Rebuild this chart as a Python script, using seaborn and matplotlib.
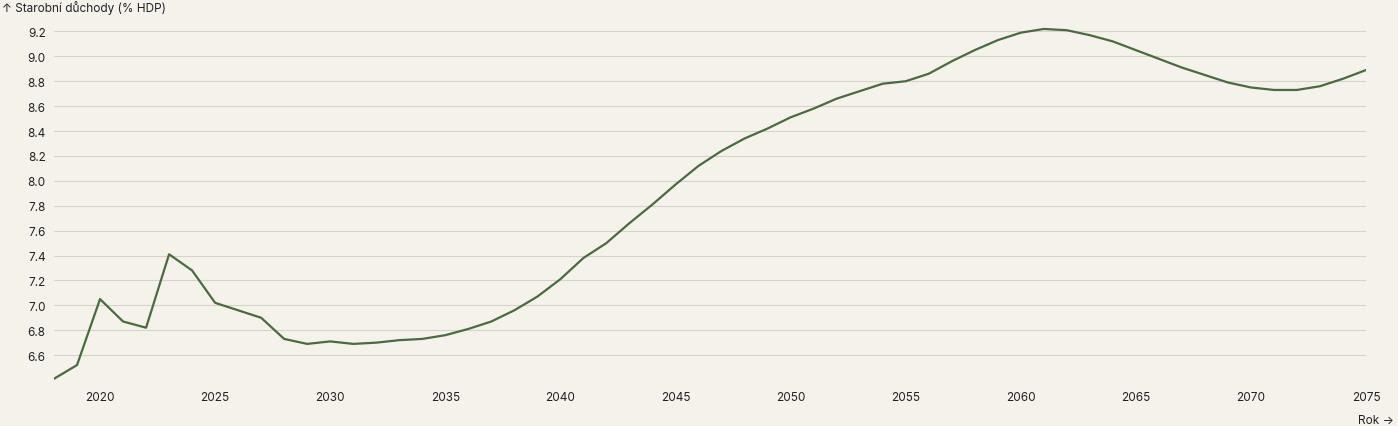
import matplotlib
matplotlib.use("Agg")
import matplotlib.pyplot as plt
import seaborn as sns
import pandas as pd

years = list(range(2018, 2076))
values = [6.41, 6.52, 7.05, 6.87, 6.82, 7.41, 7.28, 7.02, 6.96, 6.90,
          6.73, 6.69, 6.71, 6.69, 6.70, 6.72, 6.73, 6.76, 6.81, 6.87,
          6.96, 7.07, 7.21, 7.38, 7.50, 7.66, 7.81, 7.97, 8.12, 8.24,
          8.34, 8.42, 8.51, 8.58, 8.66, 8.72, 8.78, 8.80, 8.86, 8.96,
          9.05, 9.13, 9.19, 9.22, 9.21, 9.17, 9.12, 9.05, 8.98, 8.91,
          8.85, 8.79, 8.75, 8.73, 8.73, 8.76, 8.82, 8.89]
xticks = [2020, 2025, 2030, 2035, 2040, 2045, 2050, 2055, 2060, 2065, 2070, 2075]
yticks = [6.6, 6.8, 7.0, 7.2, 7.4, 7.6, 7.8, 8.0, 8.2, 8.4, 8.6, 8.8, 9.0, 9.2]

sns.set_theme(style="white")
plt.rcParams['font.family'] = ['Inter', 'DejaVu Sans']
bg = "#f5f2ec"
fig = plt.figure(figsize=(13.98, 4.27), dpi=100, facecolor=bg)
ax = fig.add_axes([54/1398, 1-381/427, (1366-54)/1398, (381-20)/427])
ax.set_facecolor(bg)
df = pd.DataFrame({"year": years, "value": values})
sns.lineplot(data=df, x="year", y="value", ax=ax, color="#4a6a40", linewidth=1.6)
ax.set_xlim(2018, 2075)
ax.set_ylim(6.4, 9.3)
ax.set_xticks(xticks)
ax.set_yticks(yticks)
ax.set_yticklabels([f"{v:.1f}" for v in yticks])
ax.grid(axis="y", color="#d6d3cd", linewidth=0.8)
for s in ax.spines.values():
    s.set_visible(False)
ax.tick_params(axis="both", labelsize=8.5, colors="#222222", length=0, pad=6)
ax.tick_params(axis="x", length=4, color="#222222", pad=4)
ax.set_xlabel("")
ax.set_ylabel("")
fig.text(2/1398, 1-8/427, "↑ Starobní důchody (% HDP)", fontsize=8.5, va="center", ha="left", color="#222222")
fig.text(1394/1398, 1-421/427, "Rok →", fontsize=8.5, va="center", ha="right", color="#222222")
fig.savefig("out.png", dpi=100, facecolor=bg)
